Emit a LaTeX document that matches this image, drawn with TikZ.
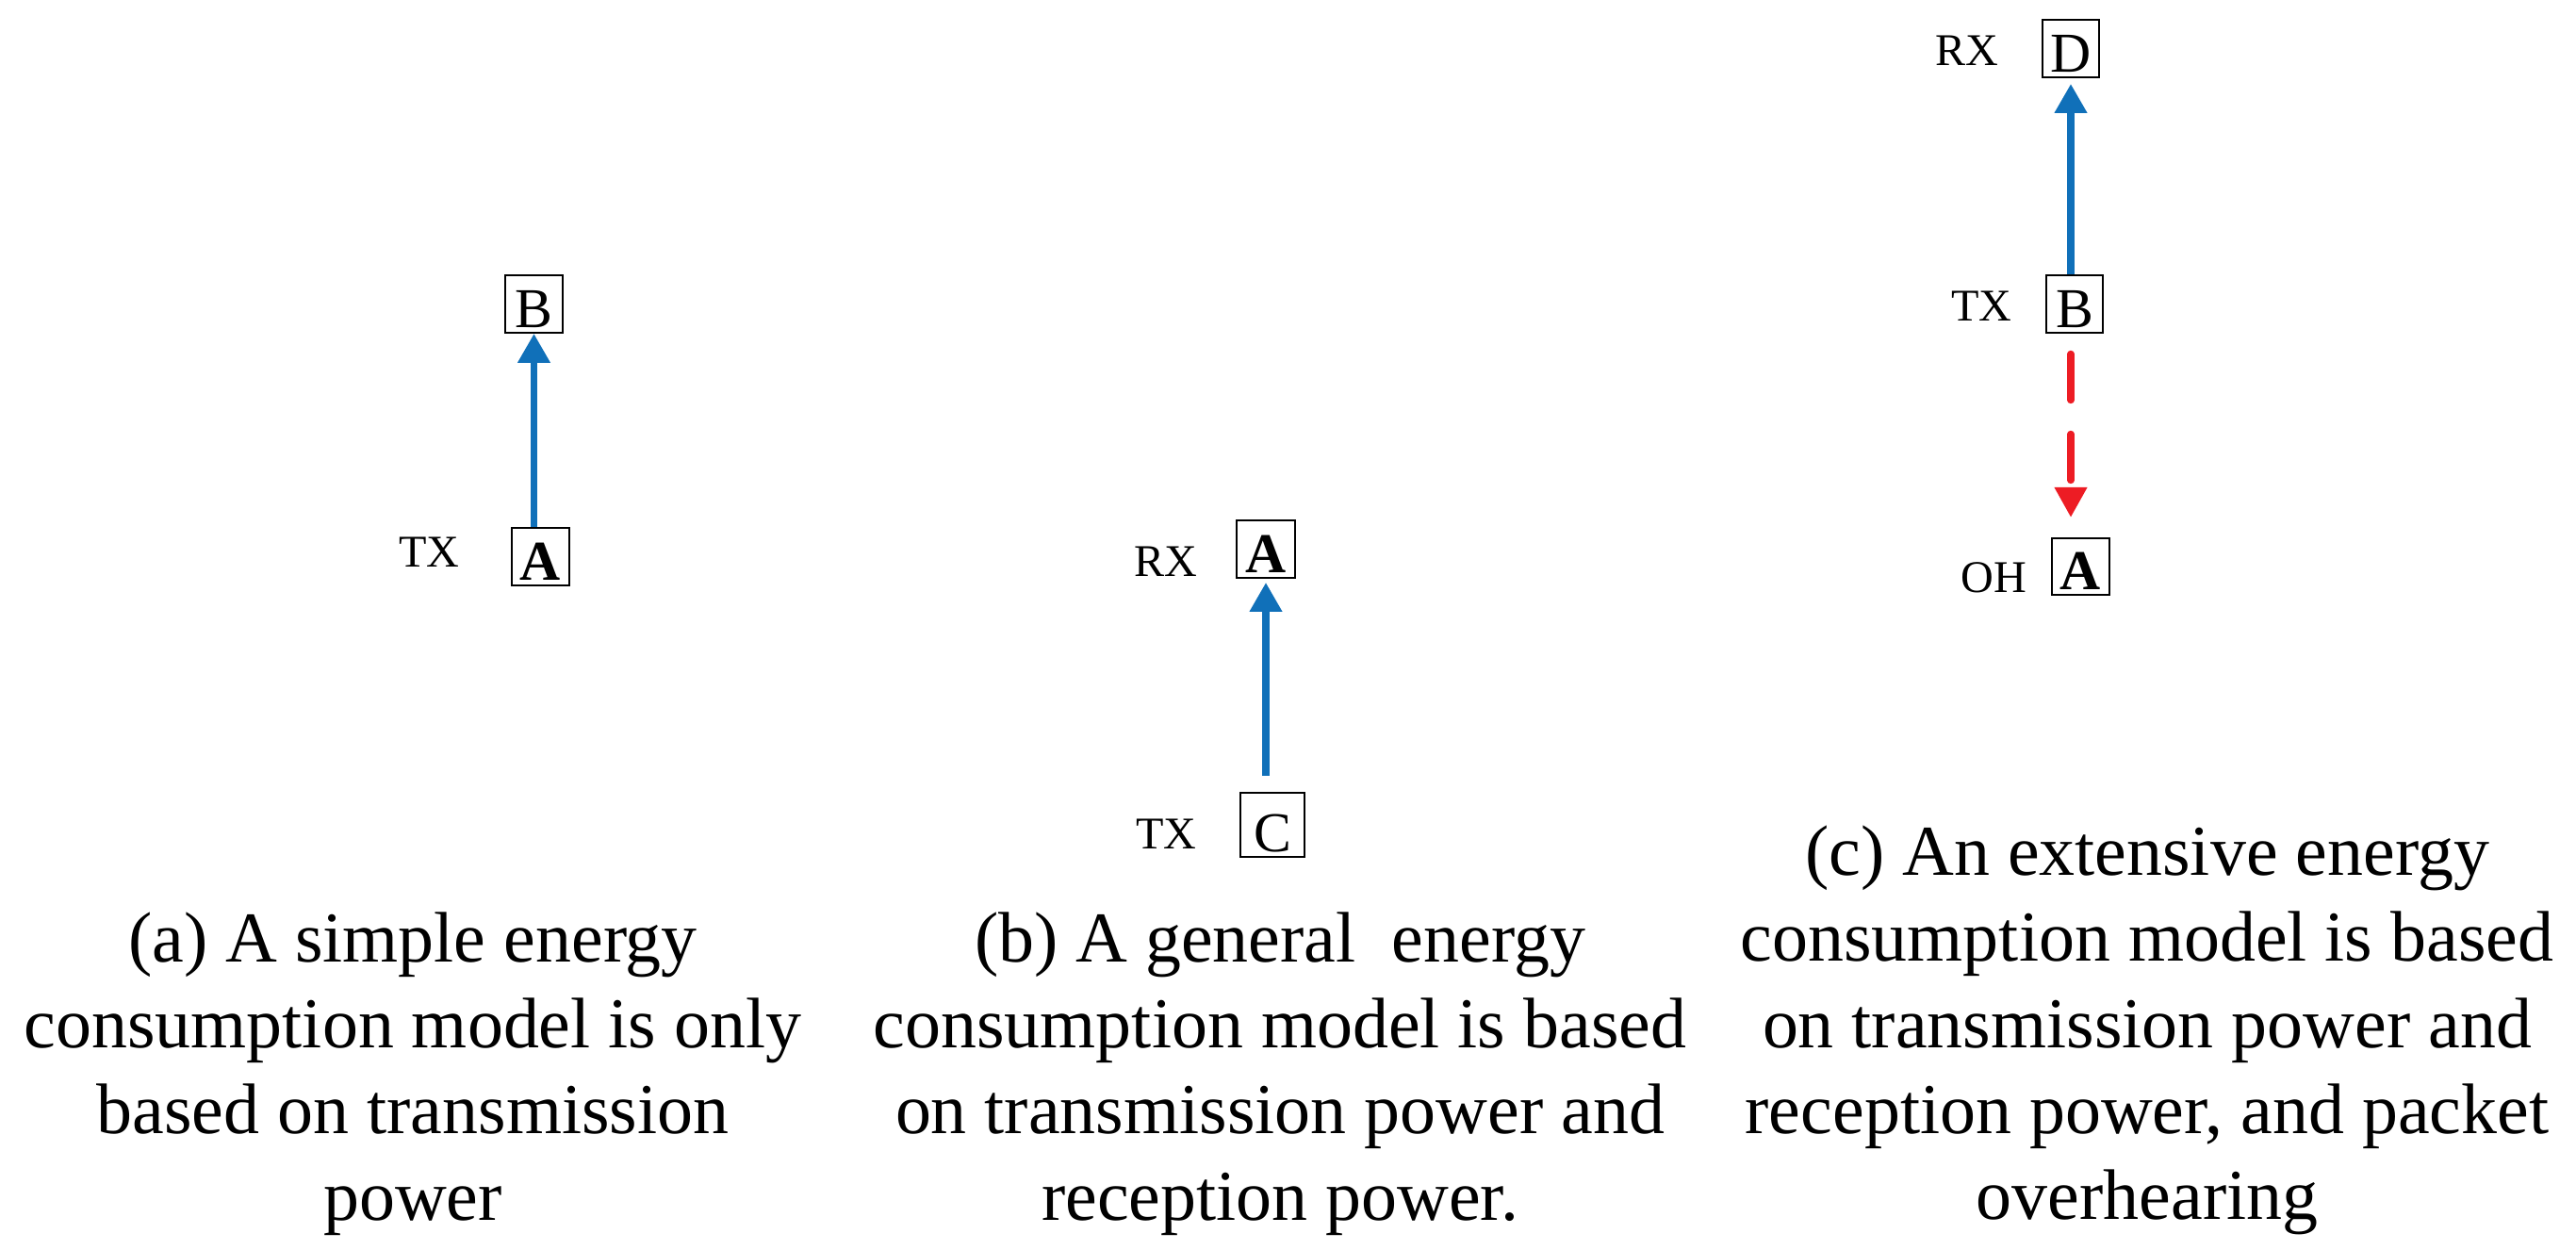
\documentclass[tikz,border=0pt]{standalone}
\usepackage{fontspec}
\setmainfont{Liberation Serif}
\usetikzlibrary{arrows.meta}
\definecolor{linkblue}{RGB}{16,112,185}
\definecolor{ohred}{RGB}{237,28,36}
\tikzset{
  nodebox/.style={draw, line width=0.6pt, inner sep=0pt, anchor=south, text depth=0.05cm,
    font=\fontsize{17}{17}\selectfont},
  rolelabel/.style={font=\fontsize{13.7}{13.7}\selectfont},
  caption/.style={align=center, font=\fontsize{21.6}{26.0}\selectfont},
  link/.style={line width=2.1pt, linkblue, -{Triangle[length=0.31cm, width=0.33cm]}},
  overhear/.style={line width=2.1pt, ohred, line cap=round, dash pattern=on 0.49cm off 0.36cm,
    -{Triangle[length=0.32cm, width=0.33cm]}}
}
\begin{document}
\begin{tikzpicture}
  \useasboundingbox (0,0) rectangle (27.33,13.26);

  % (a) only transmission
  \node[nodebox, minimum width=0.61cm, text height=0.56cm] (aB) at (5.665,9.72) {B};
  \node[nodebox, minimum width=0.61cm, text height=0.56cm] (aA) at (5.735,7.04) {\textbf{A}};
  \node[rolelabel] (aTX) at (4.555,7.40) {TX};
  \draw[link] (aA.north -| aB.south) -- (aB.south);
  \node[caption] (acap) at (4.38,1.87) {(a) A simple energy\\consumption model is only\\based on transmission\\power};

  % (b) transmission and reception
  \node[nodebox, minimum width=0.62cm, text height=0.56cm] (bA) at (13.43,7.12) {\textbf{A}};
  \node[nodebox, minimum width=0.68cm, text height=0.63cm] (bC) at (13.50,4.16) {C};
  \node[rolelabel] (bRX) at (12.365,7.30) {RX};
  \node[rolelabel] (bTX) at (12.375,4.41) {TX};
  \draw[link, shorten <=0.17cm, shorten >=0.04cm] (bC.north -| bA.south) -- (bA.south);
  \node[caption] (bcap) at (13.58,1.87) {(b) A general~ energy\\consumption model is based\\on transmission power and\\reception power.};

  % (c) with overhearing
  \node[nodebox, minimum width=0.60cm, text height=0.56cm] (cD) at (21.97,12.43) {D};
  \node[nodebox, minimum width=0.60cm, text height=0.56cm] (cB) at (22.01,9.72) {B};
  \node[nodebox, minimum width=0.61cm, text height=0.55cm] (cA) at (22.075,6.94) {\textbf{A}};
  \node[rolelabel] (cRX) at (20.87,12.72) {RX};
  \node[rolelabel] (cTX) at (21.025,10.01) {TX};
  \node[rolelabel] (cOH) at (21.15,7.13) {OH};
  \draw[link, shorten >=0.06cm] (cD.south |- cB.north) -- (cD.south);
  \draw[overhear, shorten <=0.215cm, shorten >=0.21cm] (cD.south |- cB.south) -- (cD.south |- cA.north);
  \node[caption] (ccap) at (22.78,2.33) {(c) An extensive energy\\consumption model is based\\on transmission power and\\reception power, and packet\\overhearing};
\end{tikzpicture}
\end{document}
